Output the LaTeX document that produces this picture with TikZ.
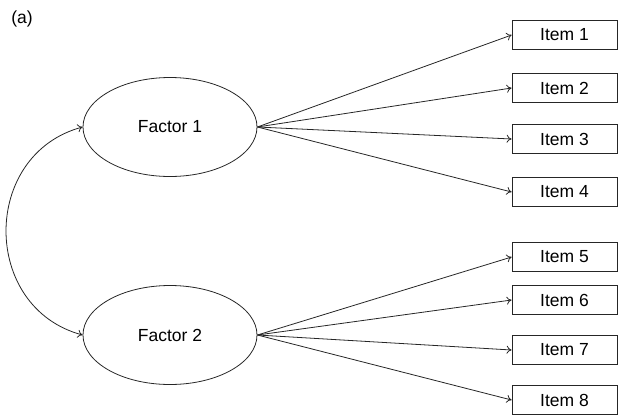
\documentclass[tikz,border=0pt]{standalone}
\usepackage{fontspec}
\setmainfont{Liberation Sans}
\usetikzlibrary{shapes.geometric}
\usetikzlibrary{arrows.meta}

\begin{document}
\begin{tikzpicture}[x=1pt, y=-1pt, font=\fontsize{17.5}{20}\selectfont]
\tikzset{
  factor/.style={ellipse, draw=black!85, line width=0.8pt, minimum width=174pt, minimum height=99pt, inner sep=0pt},
  itembox/.style={rectangle, draw=black!85, line width=0.8pt, minimum width=105pt, minimum height=29pt, inner sep=0pt},
  load/.style={-{To[length=5pt, width=8pt]}, line width=0.8pt, black!85},
}
\def\factorx{170}
\def\itemx{564.5}

\useasboundingbox (0,0) rectangle (619,416);

\node at (22,19) {(a)};

\node[factor] (f1) at (\factorx,127) {Factor 1};
\node[factor] (f2) at (\factorx,335) {Factor 2};

\node[itembox] (i1) at (\itemx,35) {Item 1};
\node[itembox] (i2) at (\itemx,88) {Item 2};
\node[itembox] (i3) at (\itemx,139) {Item 3};
\node[itembox] (i4) at (\itemx,192) {Item 4};
\node[itembox] (i5) at (\itemx,257) {Item 5};
\node[itembox] (i6) at (\itemx,300) {Item 6};
\node[itembox] (i7) at (\itemx,350) {Item 7};
\node[itembox] (i8) at (\itemx,400) {Item 8};

\draw[load] (f1.east) -- (i1.west);
\draw[load] (f1.east) -- (i2.west);
\draw[load] (f1.east) -- (i3.west);
\draw[load] (f1.east) -- (i4.west);
\draw[load] (f2.east) -- (i5.west);
\draw[load] (f2.east) -- (i6.west);
\draw[load] (f2.east) -- (i7.west);
\draw[load] (f2.east) -- (i8.west);

% covariance between the factors
\draw[load, {To[length=5pt, width=8pt]}-{To[length=5pt, width=8pt]}]
  (f1.west) to[out=195, in=165, looseness=1.3] (f2.west);
\end{tikzpicture}
\end{document}
